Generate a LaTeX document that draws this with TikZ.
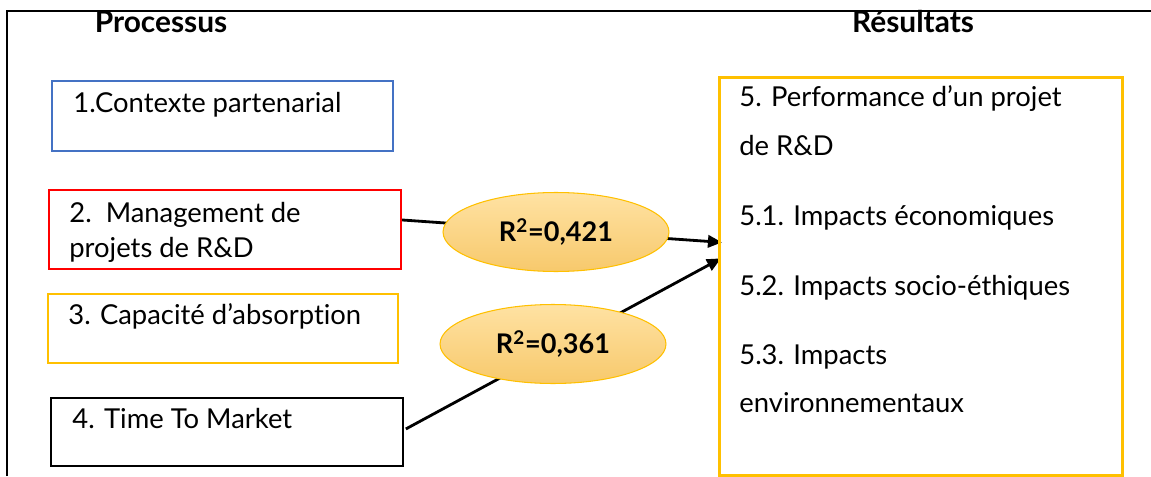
\documentclass[tikz,border=0pt]{standalone}
\usepackage{fontspec}
\setmainfont{Lato}[Ligatures=NoCommon]
\usetikzlibrary{positioning,calc,shapes.geometric,arrows.meta,backgrounds}
\definecolor{boxblue}{HTML}{4472C4}
\definecolor{boxred}{HTML}{FF0000}
\definecolor{gold}{HTML}{FFC000}
\definecolor{ovaltop}{HTML}{FFE2A3}
\definecolor{ovalbot}{HTML}{F7C96C}

\begin{document}
\begin{tikzpicture}[x=0.02cm,y=-0.02cm,font=\fontsize{15.6}{18}\selectfont]
  \tikzset{
    box/.style={draw,line width=1.1pt,inner sep=0pt,anchor=north west},
    txt/.style={anchor=base west,inner sep=0pt},
    title/.style={anchor=base,inner sep=0pt,font=\fontsize{17}{20}\selectfont\bfseries},
    oval/.style={ellipse,draw=gold,line width=0.6pt,top color=ovaltop,bottom color=ovalbot,
                 minimum width=4.52cm,minimum height=1.58cm,inner sep=0pt,
                 font=\fontsize{15.4}{18}\selectfont\bfseries},
    link/.style={line width=1.6pt,-{Triangle[length=8pt,width=7pt]}},
  }
  \useasboundingbox (0,0) rectangle (1151,476);
  % ---- frame ----
  \draw[line width=1.7pt] (7,476) -- (7,11) -- (1151,11);
  \node[title] (proc) at (161,33) {Processus};
  \node[title] (resu) at (913,33) {Résultats};
  % ---- processus ----
  \node[box,draw=boxblue,minimum width=6.82cm,minimum height=1.4cm] (ctx) at (51,80) {};
  \node[txt] (ctxlbl) at (73,113) {1.Contexte partenarial};
  \node[box,draw=boxred,minimum width=7.04cm,minimum height=1.58cm] (mgmt) at (48,189) {};
  \node[txt] (mgmtlbl) at (69,222) {2.\ \ Management de};
  \node[txt] (mgmtlbl2) at (69,257) {projets de R\&D};
  \node[box,draw=gold,minimum width=7cm,minimum height=1.38cm] (absorb) at (47,293) {};
  \node[txt] (absorblbl) at (68,324) {3. Capacité d’absorption};
  \node[box,draw=black,minimum width=7.04cm,minimum height=1.36cm] (ttm) at (50,397) {};
  \node[txt] (ttmlbl) at (72,428) {4. Time To Market};
  % ---- resultats ----
  \node[box,draw=gold,line width=1.6pt,minimum width=8.06cm,minimum height=7.96cm] (res) at (718,76) {};
  \node[txt] (perf) at (739,107) {5. Performance d’un projet};
  \node[txt] (perf2) at (739,155) {de R\&D};
  \node[txt] (eco) at (739,225) {5.1. Impacts économiques};
  \node[txt] (soc) at (739,295) {5.2. Impacts socio-éthiques};
  \node[txt] (env) at (739,364) {5.3. Impacts};
  \node[txt] (env2) at (739,412) {environnementaux};
  % ---- R2 ----
  \node[oval] (rmgmt) at (556,232) {R\textsuperscript{2}=0,421};
  \node[oval] (rttm) at (553,344) {R\textsuperscript{2}=0,361};
  \begin{scope}[on background layer]
    \draw[link] ($(mgmt.east)+(0,-9.5)$) -- ($(res.west)+(4,-34)$);
    \draw[link] ($(ttm.east)+(2,-3)$) -- ($(res.west)+(3,-18)$);
  \end{scope}
\end{tikzpicture}
\end{document}
